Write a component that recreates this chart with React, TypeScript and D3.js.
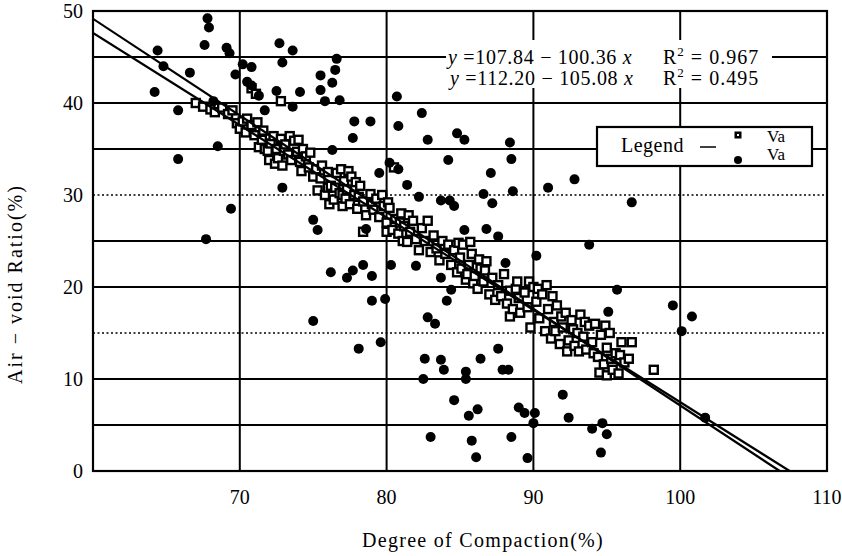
import React from "react";
import * as d3 from "d3";

// Axis settings
const xDomain: [number, number] = [60, 110];
const yDomain: [number, number] = [0, 50];
const xTickValues = [70, 80, 90, 100, 110];
const yTickValues = [0, 10, 20, 30, 40, 50];
const verticalGrid = [70, 80, 90, 100];
const horizontalGrid = [5, 10, 15, 20, 25, 30, 35, 40, 45];
const dottedGrid = [15, 30];

// Regression fits: Va = a - b * (compaction / 100)
const fitIntercepts = [107.84, 112.2];
const fitSlopes = [100.36, 105.08];
const fitLabels = ["107.84", "112.20"];
const fitSlopeLabels = ["100.36", "105.08"];
const fitR2 = ["0.967", "0.495"];

// Va, square markers (degree of compaction %, air-void ratio %)
const squarePoints: [number, number][] = [
  [67.0, 40.0], [67.5, 39.6], [68.0, 39.3], [68.3, 39.0], [68.8, 39.5], [69.2, 38.8],
  [69.5, 39.2], [69.8, 37.8], [70.0, 37.2], [70.2, 38.0], [70.4, 36.8], [70.5, 38.3],
  [70.8, 37.6], [70.8, 41.6], [71.1, 41.0], [71.0, 36.5], [71.2, 37.9], [71.3, 35.2],
  [71.5, 36.0], [71.6, 37.0], [71.7, 35.0], [71.9, 34.8], [72.0, 33.8], [72.1, 35.6],
  [72.3, 36.4], [72.4, 33.4], [72.5, 35.0], [72.6, 34.0], [72.8, 36.1], [72.8, 40.2],
  [72.9, 33.2], [73.0, 34.8], [73.1, 35.5], [73.3, 34.4], [73.4, 36.4], [73.5, 33.8],
  [73.7, 35.9], [73.9, 34.7], [74.0, 36.0], [74.1, 33.6], [74.2, 32.6], [74.3, 35.0],
  [74.5, 34.2], [74.7, 33.0], [74.8, 34.6], [75.0, 32.0], [75.2, 32.8], [75.3, 30.5],
  [75.5, 31.8], [75.6, 33.2], [75.8, 30.0], [76.0, 32.5], [76.0, 30.8], [76.1, 29.0],
  [76.2, 31.0], [76.4, 29.5], [76.5, 30.8], [76.6, 32.4], [76.8, 30.2], [76.9, 32.8],
  [77.0, 28.8], [77.0, 30.0], [77.1, 31.5], [77.2, 29.6], [77.3, 30.6], [77.4, 32.6],
  [77.5, 29.0], [77.6, 32.0], [77.8, 30.0], [77.9, 31.4], [78.0, 28.5], [78.1, 29.8],
  [78.2, 31.0], [78.4, 29.3], [78.4, 26.0], [78.6, 27.8], [78.9, 30.1], [79.0, 29.0],
  [79.1, 28.4], [79.3, 29.6], [79.5, 27.6], [79.7, 30.0], [79.8, 28.8], [80.0, 27.0],
  [80.0, 26.0], [80.1, 29.2], [80.2, 28.6], [80.4, 26.2], [80.5, 33.0], [80.6, 27.4],
  [80.8, 25.8], [80.9, 27.0], [81.0, 28.0], [81.1, 25.0], [81.2, 26.6], [81.4, 24.9],
  [81.5, 27.8], [81.6, 26.0], [81.8, 27.2], [82.0, 25.2], [82.2, 24.0], [82.4, 26.4],
  [82.6, 25.0], [82.8, 27.2], [83.0, 23.8], [83.2, 25.6], [83.4, 24.2], [83.6, 22.9],
  [83.8, 25.0], [84.0, 23.6], [84.2, 24.6], [84.4, 22.4], [84.6, 24.0], [84.8, 21.6],
  [84.9, 24.8], [85.0, 23.2], [85.1, 22.0], [85.2, 24.6], [85.4, 20.8], [85.5, 21.4],
  [85.6, 22.4], [85.7, 24.9], [85.8, 23.6], [85.9, 20.4], [86.0, 21.2], [86.2, 19.8],
  [86.3, 23.0], [86.4, 22.0], [86.6, 20.6], [86.7, 21.8], [86.8, 22.8], [87.0, 19.2],
  [87.2, 21.0], [87.4, 18.6], [87.6, 20.2], [87.8, 19.0], [88.0, 21.4], [88.2, 18.2],
  [88.4, 16.8], [88.4, 19.6], [88.6, 17.6], [88.8, 19.8], [88.9, 20.6], [89.0, 18.8],
  [89.1, 17.2], [89.4, 19.4], [89.6, 17.8], [89.7, 20.6], [89.8, 15.6], [90.0, 20.0],
  [90.2, 18.4], [90.3, 19.8], [90.4, 16.6], [90.6, 19.2], [90.8, 15.2], [90.9, 20.2],
  [91.0, 17.6], [91.2, 14.4], [91.3, 19.0], [91.4, 16.2], [91.5, 15.2], [91.6, 18.0],
  [91.8, 13.8], [91.9, 16.8], [92.0, 15.6], [92.2, 17.2], [92.3, 13.0], [92.4, 14.2],
  [92.6, 16.4], [92.7, 15.4], [92.8, 13.6], [93.0, 15.0], [93.1, 13.0], [93.2, 17.0],
  [93.4, 14.6], [93.5, 16.2], [93.6, 13.2], [93.8, 15.8], [94.0, 14.0], [94.1, 12.8],
  [94.2, 16.0], [94.4, 12.4], [94.5, 10.7], [94.6, 14.8], [94.8, 11.6], [94.9, 15.8],
  [95.0, 13.4], [95.0, 10.4], [95.2, 15.0], [95.3, 12.2], [95.4, 11.0], [95.6, 12.8],
  [95.8, 10.6], [95.9, 12.6], [96.0, 14.0], [96.2, 11.8], [96.5, 12.2], [96.7, 14.0],
  [98.2, 11.0],
];

// Va, filled round markers
const dotPoints: [number, number][] = [
  [64.2, 41.2], [64.4, 45.7], [64.8, 44.0], [65.8, 39.2], [65.8, 33.9], [66.6, 43.3],
  [67.6, 46.3], [67.8, 49.2], [67.9, 48.2], [67.7, 25.2], [68.2, 40.2], [68.5, 35.3],
  [69.1, 46.0], [69.3, 45.4], [69.4, 28.5], [69.7, 43.1], [70.2, 44.2], [70.8, 43.9],
  [70.5, 42.3], [70.8, 41.9], [71.3, 40.8], [71.7, 39.2], [72.7, 46.5], [72.9, 44.4],
  [72.5, 41.3], [72.9, 30.8], [73.6, 45.7], [73.6, 39.6], [74.1, 41.2], [75.5, 43.0],
  [75.5, 41.4], [75.8, 40.2], [76.3, 42.2], [76.5, 43.6], [76.6, 44.8], [76.8, 40.3],
  [75.0, 27.3], [75.3, 26.2], [75.0, 16.3], [76.3, 34.9], [76.2, 21.6], [77.3, 21.0],
  [77.7, 21.8], [77.7, 36.2], [77.8, 38.0], [78.9, 38.0], [78.1, 13.3], [78.4, 22.4],
  [78.6, 26.3], [79.0, 21.2], [79.0, 18.5], [79.6, 14.0], [79.5, 32.4], [79.9, 18.7],
  [80.2, 33.5], [80.3, 22.4], [80.7, 40.7], [80.8, 37.5], [80.8, 32.8], [81.4, 31.1],
  [82.0, 22.3], [82.2, 29.8], [82.4, 38.9], [82.5, 10.0], [82.6, 12.2], [82.8, 36.0],
  [82.8, 16.7], [83.0, 3.7], [83.3, 16.0], [83.7, 12.1], [83.7, 21.0], [83.9, 11.0],
  [84.1, 18.5], [84.2, 33.8], [83.7, 29.4], [84.3, 29.4], [84.4, 19.7], [84.6, 7.7],
  [84.6, 28.8], [84.8, 36.7], [85.3, 36.0], [85.3, 26.2], [85.4, 10.8], [85.4, 10.0],
  [85.6, 6.0], [85.8, 3.3], [86.1, 1.5], [86.2, 6.7], [86.4, 12.2], [86.6, 30.1],
  [86.8, 26.3], [87.1, 32.4], [87.2, 29.1], [87.6, 25.5], [87.6, 13.3], [87.9, 11.0],
  [88.1, 22.6], [88.4, 35.7], [88.5, 33.9], [88.6, 30.4], [88.3, 11.0], [88.5, 3.7],
  [89.0, 6.9], [89.4, 6.3], [89.6, 1.4], [90.0, 5.2], [90.1, 6.3], [90.2, 23.4],
  [91.0, 30.8], [92.0, 8.3], [92.4, 5.8], [92.8, 31.7], [93.8, 24.6], [94.0, 4.6],
  [94.6, 2.0], [94.7, 5.2], [95.0, 4.0], [95.1, 17.3], [95.7, 19.7], [96.7, 29.2],
  [99.5, 18.0], [100.1, 15.2], [100.8, 16.8], [101.7, 5.8],
];

const W = 842;
const H = 556;
const plot = { left: 93, top: 11, right: 827, bottom: 471 };
const serif = "'Liberation Serif', 'Times New Roman', serif";

export default function App() {
  const x = d3.scaleLinear().domain(xDomain).range([plot.left, plot.right]);
  const y = d3.scaleLinear().domain(yDomain).range([plot.bottom, plot.top]);

  const fitLine = (a: number, b: number) => {
    const xEnd = (a / b) * 100;
    const pts: [number, number][] = [
      [xDomain[0], a - b * (xDomain[0] / 100)],
      [xEnd, 0],
    ];
    return d3
      .line<[number, number]>()
      .x((d) => x(d[0]))
      .y((d) => y(d[1]))(pts) as string;
  };

  return (
    <svg
      width={W}
      height={H}
      style={{ position: "absolute", left: 0, top: 0, background: "#fff", fontFamily: serif }}
    >
      <rect x={0} y={0} width={W} height={H} fill="#fff" />
      <defs>
        <clipPath id="plot-area">
          <rect
            x={plot.left}
            y={plot.top}
            width={plot.right - plot.left}
            height={plot.bottom - plot.top}
          />
        </clipPath>
      </defs>

      {/* grid */}
      {horizontalGrid.map((v) => (
        <line
          key={"h" + v}
          x1={plot.left}
          x2={plot.right}
          y1={y(v)}
          y2={y(v)}
          stroke="#000"
          strokeWidth={dottedGrid.includes(v) ? 1.4 : 2}
          strokeDasharray={dottedGrid.includes(v) ? "2 2.5" : undefined}
        />
      ))}
      {verticalGrid.map((v) => (
        <line
          key={"v" + v}
          x1={x(v)}
          x2={x(v)}
          y1={plot.top}
          y2={plot.bottom}
          stroke="#000"
          strokeWidth={2}
        />
      ))}

      {/* blank band behind the fit equations */}
      <rect x={446} y={40} width={326} height={48} fill="#fff" />

      <g clipPath="url(#plot-area)">
        {squarePoints.map((d, i) => (
          <rect
            key={"s" + i}
            x={x(d[0]) - 4}
            y={y(d[1]) - 4}
            width={8}
            height={8}
            fill="#fff"
            stroke="#000"
            strokeWidth={2.4}
          />
        ))}
        {fitIntercepts.map((a, i) => (
          <path
            key={"f" + i}
            d={fitLine(a, fitSlopes[i])}
            fill="none"
            stroke="#000"
            strokeWidth={2.2}
          />
        ))}
        {dotPoints.map((d, i) => (
          <circle key={"c" + i} cx={x(d[0])} cy={y(d[1])} r={5} fill="#000" />
        ))}
      </g>

      {/* frame */}
      <rect
        x={plot.left}
        y={plot.top}
        width={plot.right - plot.left}
        height={plot.bottom - plot.top}
        fill="none"
        stroke="#000"
        strokeWidth={2.2}
      />

      {/* fit equations */}
      {fitIntercepts.map((_, i) => (
        <g key={"eq" + i} fontSize={20} fill="#000">
          <text x={448 + i * 2} y={64 + i * 21} letterSpacing={0.7}>
            <tspan fontStyle="italic">y</tspan>
            <tspan> ={fitLabels[i]} − {fitSlopeLabels[i]} </tspan>
            <tspan fontStyle="italic">x</tspan>
          </text>
          <text x={663} y={64 + i * 21} letterSpacing={1}>
            R<tspan dy={-8} fontSize={13}>2</tspan>
            <tspan dy={8}> = {fitR2[i]}</tspan>
          </text>
        </g>
      ))}

      {/* legend */}
      <g>
        <rect x={597} y={127} width={215} height={39} fill="#fff" stroke="#000" strokeWidth={2.2} />
        <text x={621} y={152} fontSize={20} letterSpacing={0.5}>
          Legend
        </text>
        <line x1={700} x2={716} y1={147} y2={147} stroke="#000" strokeWidth={1.5} />
        <rect x={734.5} y={131.5} width={7} height={7} fill="#000" />
        <rect x={737} y={134} width={2} height={2} fill="#fff" />
        <circle cx={738} cy={160} r={4} fill="#000" />
        <text x={767} y={142} fontSize={17}>
          Va
        </text>
        <text x={767} y={160} fontSize={17}>
          Va
        </text>
      </g>

      {/* axes tick labels */}
      {xTickValues.map((v) => (
        <text key={"xt" + v} x={x(v)} y={504} fontSize={20} textAnchor="middle">
          {v}
        </text>
      ))}
      {yTickValues.map((v) => (
        <text
          key={"yt" + v}
          x={83}
          y={y(v)}
          dy="0.35em"
          fontSize={20}
          textAnchor="end"
        >
          {v}
        </text>
      ))}

      {/* axis titles */}
      <text x={483} y={547} fontSize={20} textAnchor="middle" letterSpacing={1.3}>
        Degree of Compaction(%)
      </text>
      <text
        transform={`translate(22,284) rotate(-90)`}
        fontSize={20}
        textAnchor="middle"
        letterSpacing={2}
      >
        Air − void Ratio(%)
      </text>
    </svg>
  );
}
